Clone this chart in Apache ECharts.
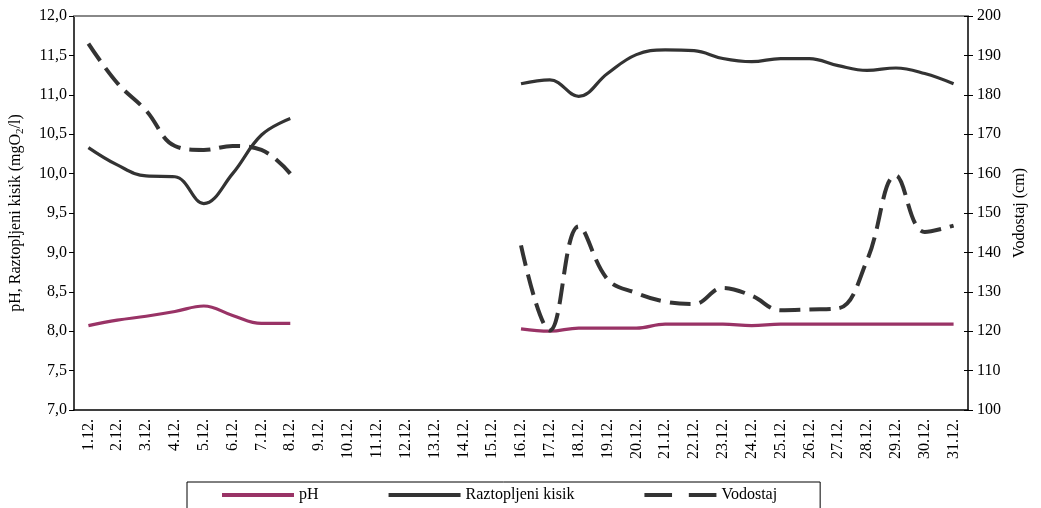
<!DOCTYPE html>
<html>
<head>
<meta charset="utf-8">
<script src="https://cdn.jsdelivr.net/npm/echarts@6/dist/echarts.min.js"></script>
<style>
html,body{margin:0;padding:0;background:#fff;}
#chart{width:1041px;height:508px;}
</style>
</head>
<body>
<div id="chart"></div>
<script>
var days = ['1.12.','2.12.','3.12.','4.12.','5.12.','6.12.','7.12.','8.12.','9.12.','10.12.','11.12.','12.12.','13.12.','14.12.','15.12.','16.12.','17.12.','18.12.','19.12.','20.12.','21.12.','22.12.','23.12.','24.12.','25.12.','26.12.','27.12.','28.12.','29.12.','30.12.','31.12.'];
var phValues = [8.07,8.14,8.19,8.25,8.32,8.20,8.10,8.10, null,null,null,null,null,null,null, 8.03,8.00,8.04,8.04,8.04,8.09,8.09,8.09,8.07,8.09,8.09,8.09,8.09,8.09,8.09,8.09];
var oxygenValues = [10.33,10.11,9.97,9.96,9.62,10.00,10.49,10.70, null,null,null,null,null,null,null, 11.14,11.19,10.98,11.27,11.51,11.57,11.56,11.46,11.42,11.46,11.46,11.37,11.31,11.34,11.27,11.14];
var levelValues = [193,183,176,167,166,167,166,160, null,null,null,null,null,null,null, 141.8,120.2,146.6,133.2,129.7,127.5,126.9,131.0,129.0,125.3,125.5,125.8,138.0,159.5,145.2,146.8];
var seriesNames = ['pH','Raztopljeni kisik','Vodostaj'];
var leftName = '{a|pH, Raztopljeni kisik (mgO}{b|2}{a|/l)}';
var rightName = 'Vodostaj (cm)';

var FONT = '"Liberation Serif", "Times New Roman", serif';
var solidIcon = 'path://M0,0 H72 V4 H0 Z';
var dashIcon = 'path://M0,0 H28 V4 H0 Z M45,0 H73 V4 H45 Z';
var chart = echarts.init(document.getElementById('chart'), null, {renderer:'canvas'});
chart.setOption({
  animation: false,
  backgroundColor: '#fff',
  grid: {left: 74, right: 73, top: 16, bottom: 98},
  legend: {
    left: 187, top: 482,
    padding: [5, 43, 12, 35],
    itemGap: 70, itemWidth: 72, itemHeight: 4,
    borderColor: '#000', borderWidth: 1,
    textStyle: {fontSize: 16, fontFamily: FONT, color: '#000'},
    data: [
      {name: seriesNames[0], icon: solidIcon},
      {name: seriesNames[1], icon: solidIcon},
      {name: seriesNames[2], icon: dashIcon}
    ]
  },
  xAxis: [{
    type: 'category', data: days, boundaryGap: true,
    axisLine: {lineStyle: {color: '#000', width: 1.5}},
    axisTick: {length: 5, lineStyle: {color: '#000'}},
    axisLabel: {rotate: 90, interval: 0, margin: 9, fontSize: 16, fontFamily: FONT, color: '#000'}
  }, {
    type: 'category', data: days, position: 'top', boundaryGap: true,
    axisLine: {lineStyle: {color: '#888', width: 2}},
    axisTick: {show: false}, axisLabel: {show: false}
  }],
  yAxis: [{
    type: 'value', min: 7, max: 12, interval: 0.5, position: 'left',
    axisLine: {show: true, lineStyle: {color: '#000', width: 1.5}},
    axisTick: {show: true, length: 5, lineStyle: {color: '#000'}},
    splitLine: {show: false},
    axisLabel: {margin: 7, fontSize: 16, fontFamily: FONT, color: '#000',
      formatter: function(v){ return v.toFixed(1).replace('.', ','); }},
    name: leftName, nameLocation: 'middle', nameGap: 48, nameRotate: 90,
    nameTextStyle: {
      color: '#000',
      rich: {
        a: {fontSize: 16, fontFamily: FONT, color: '#000', lineHeight: 20},
        b: {fontSize: 11, fontFamily: FONT, color: '#000', verticalAlign: 'bottom', lineHeight: 11}
      }
    }
  }, {
    type: 'value', min: 100, max: 200, interval: 10, position: 'right',
    axisLine: {show: true, lineStyle: {color: '#000', width: 1.5}},
    axisTick: {show: true, length: 5, lineStyle: {color: '#000'}},
    splitLine: {show: false},
    axisLabel: {margin: 9, fontSize: 16, fontFamily: FONT, color: '#000'},
    name: rightName, nameLocation: 'middle', nameGap: 42, nameRotate: 90,
    nameTextStyle: {fontSize: 16, fontFamily: FONT, color: '#000'}
  }, {
    type: 'value', min: 100, max: 200, interval: 10, position: 'right',
    axisLine: {show: false},
    axisTick: {show: true, inside: true, length: 4, lineStyle: {color: '#000'}},
    splitLine: {show: false},
    axisLabel: {show: false}
  }],
  series: [{
    name: seriesNames[0], type: 'line', yAxisIndex: 0, data: phValues,
    symbol: 'none', smooth: 0.4, connectNulls: false,
    lineStyle: {color: '#993366', width: 3.2}, itemStyle: {color: '#993366'}
  }, {
    name: seriesNames[1], type: 'line', yAxisIndex: 0, data: oxygenValues,
    symbol: 'none', smooth: 0.4, connectNulls: false,
    lineStyle: {color: '#333333', width: 3.2}, itemStyle: {color: '#333333'}
  }, {
    name: seriesNames[2], type: 'line', yAxisIndex: 1, data: levelValues,
    symbol: 'none', smooth: 0.4, connectNulls: false,
    lineStyle: {color: '#333333', width: 4, type: [21, 9]}, itemStyle: {color: '#333333'}
  }]
});
</script>
</body>
</html>
